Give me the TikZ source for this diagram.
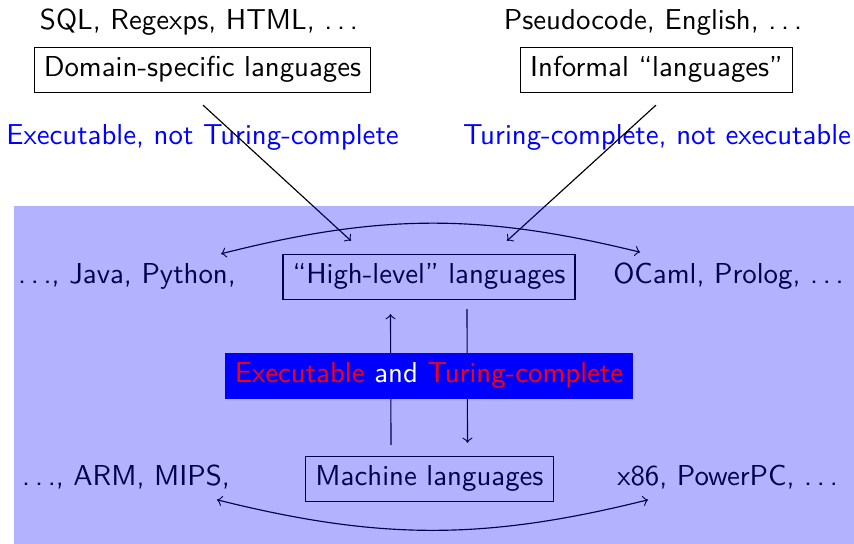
\documentclass[tikz,border=0pt]{standalone}
\usetikzlibrary{calc}
% spaced ellipsis, as the classic \ldots sets it
\newcommand\spdots{.\kern\fontdimen3\font.\kern\fontdimen3\font.}
\begin{document}
\begin{tikzpicture}[x=0.347pt, y=-0.347pt, font=\sffamily,
  lbl/.style={anchor=base, inner sep=3.33pt},
  langbox/.style={lbl, draw},
  note/.style={lbl, text=blue},
  conn/.style={->, line width=0.4pt}]
\useasboundingbox (0,0) rectangle (854,544);

% outside languages
\node[lbl] (sql) at (199,30) {SQL, Regexps, HTML, \spdots};
\node[lbl] (pseudo) at (653,30) {Pseudocode, English, \spdots};
\node[langbox] (dsl) at (202.5,77) {Domain-specific languages};
\node[langbox] (inf) at (656.5,77) {Informal ``languages''};
\node[note] (exnt) at (202.5,145) {Executable, not Turing-complete};
\node[note] (tcne) at (657,145) {Turing-complete, not executable};

% general-purpose languages
\node[lbl] (java) at (127,284) {\spdots, Java, Python,};
\node[langbox] (hl) at (429,284) {``High-level'' languages};
\node[lbl] (ocaml) at (728.5,284) {OCaml, Prolog, \spdots};
\node[lbl] (arm) at (126,486) {\spdots, ARM, MIPS,};
\node[langbox] (ml) at (429.5,486) {Machine languages};
\node[lbl] (x86) at (727.5,486) {x86, PowerPC, \spdots};

\draw[conn] ($(dsl.south)+(0.5,12)$) -- ($(hl.north)+(-78,-13)$);
\draw[conn] ($(inf.south)+(-0.5,12)$) -- ($(hl.north)+(78,-13)$);
\draw[<->] ($(java.north east)+(-25,0)$) to[bend left=14] ($(ocaml.north west)+(37,-1)$);
\draw[<->] ($(arm.south east)+(-23,0)$) to[bend right=14] ($(x86.south west)+(41,0)$);
\draw[conn] ($(ml.north)+(-38.5,-11)$) -- ($(hl.south)+(-38.5,14)$);
\draw[conn] ($(hl.south)+(38,9)$) -- ($(ml.north)+(38,-13)$);

% tinted panel over the executable, Turing-complete languages
\fill[blue, fill opacity=0.3] (14,206) rectangle (854,544);

\node[lbl, fill=blue] (both) at (429,383)
  {\textcolor{red}{Executable} \textcolor{white}{and} \textcolor{red}{Turing-complete}};
\end{tikzpicture}
\end{document}
